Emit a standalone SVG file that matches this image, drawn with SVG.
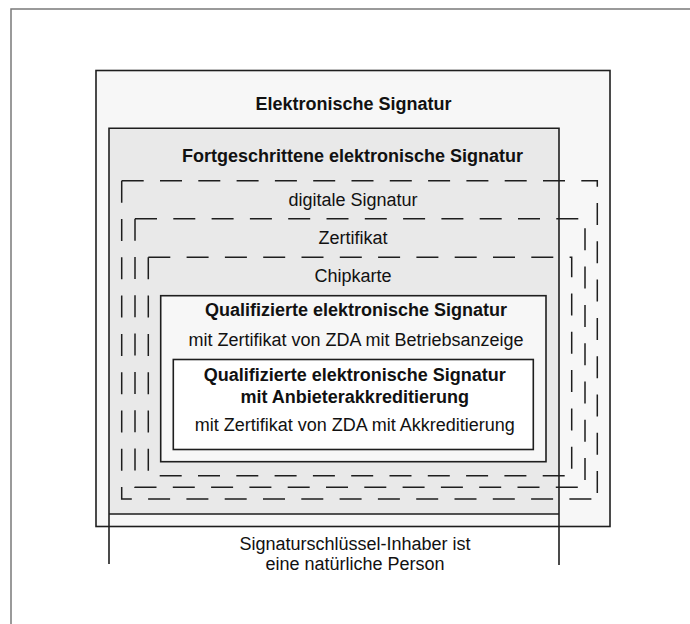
<svg xmlns="http://www.w3.org/2000/svg" width="690" height="624" viewBox="0 0 690 624">
<style>
.box{stroke:#1e1e1e;stroke-width:1.6}
.dash{fill:none;stroke:#1e1e1e;stroke-width:1.5;stroke-dasharray:22 16.3}
.ln{fill:none;stroke:#1e1e1e;stroke-width:1.6}
.t{font-family:"Liberation Sans",Arial,sans-serif;font-size:18px;fill:#111;text-anchor:middle}
.b{font-weight:bold}
</style>
<g id="frame">
<path d="M11,624 V9 H690" fill="none" stroke="#7a7a7a" stroke-width="1.5"/>
</g>
<g id="elektronisch">
<rect class="box" x="96" y="70.5" width="514" height="456" fill="#f7f7f7"/>
<text class="t b" x="353.5" y="110">Elektronische Signatur</text>
</g>
<g id="fortgeschritten">
<rect x="109" y="128.3" width="450" height="385.7" fill="#e9e9e9"/>
<path class="ln" d="M109,564 V128.3 H559 V565 M109,514 H559"/>
<text class="t b" x="352.5" y="161.5">Fortgeschrittene elektronische Signatur</text>
</g>
<g id="digitale-signatur">
<path class="dash" d="M121.7,180.7 H597.3 V499"/>
<path class="dash" d="M121.7,180.7 V499 H597.3"/>
<text class="t" x="353" y="205.5">digitale Signatur</text>
</g>
<g id="zertifikat">
<path class="dash" d="M135,218.7 H585 V487.3"/>
<path class="dash" d="M135,218.7 V487.3 H585"/>
<text class="t" x="353" y="243.5">Zertifikat</text>
</g>
<g id="chipkarte">
<path class="dash" d="M148.3,257.3 H571.7 V475.7"/>
<path class="dash" d="M148.3,257.3 V475.7 H571.7"/>
<text class="t" x="353" y="282">Chipkarte</text>
</g>
<g id="qualifiziert">
<rect class="box" x="160.7" y="295.7" width="385.3" height="166" fill="#f7f7f7"/>
<text class="t b" x="356" y="315.5">Qualifizierte elektronische Signatur</text>
<text class="t" x="356" y="346">mit Zertifikat von ZDA mit Betriebsanzeige</text>
</g>
<g id="akkreditiert">
<rect class="box" x="173.3" y="359.5" width="360" height="90" fill="#ffffff"/>
<text class="t b" x="354.7" y="381">Qualifizierte elektronische Signatur</text>
<text class="t b" x="354.7" y="402.5">mit Anbieterakkreditierung</text>
<text class="t" x="354.7" y="431">mit Zertifikat von ZDA mit Akkreditierung</text>
</g>
<g id="inhaber">
<text class="t" x="355" y="550">Signaturschlüssel-Inhaber ist</text>
<text class="t" x="355" y="570">eine natürliche Person</text>
</g>
<g id="connectors"></g>
</svg>
